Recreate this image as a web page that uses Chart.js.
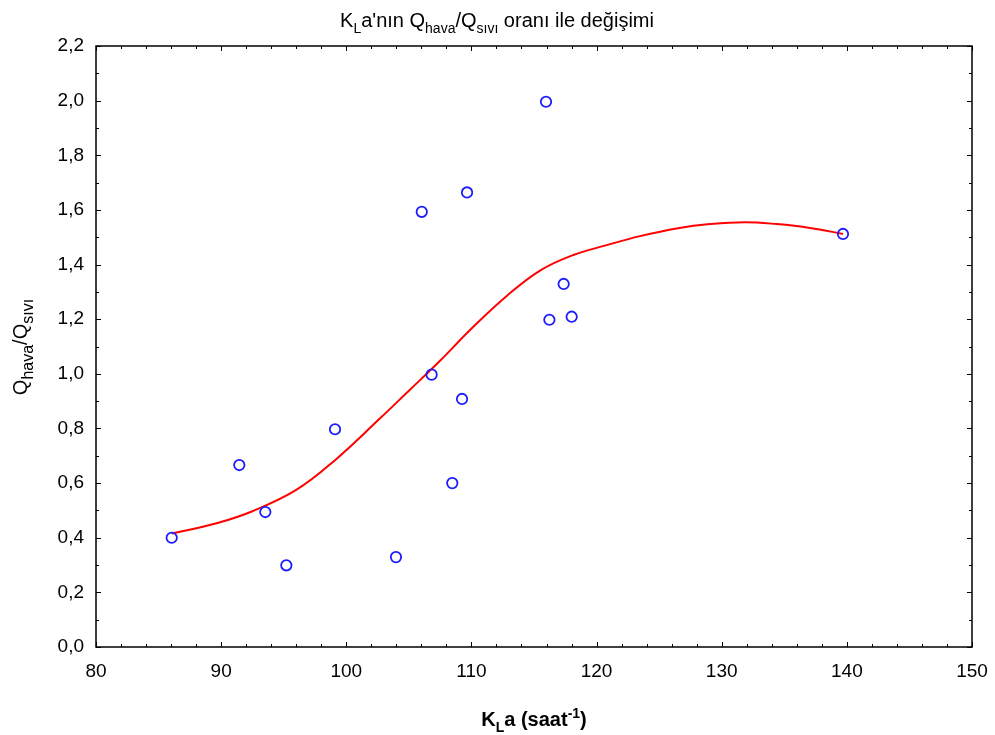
<!DOCTYPE html>
<html>
<head>
<meta charset="utf-8">
<script src="https://cdn.jsdelivr.net/npm/chart.js@4.4.1/dist/chart.umd.min.js"></script>
<style>
  html, body { margin: 0; padding: 0; background: #ffffff; }
  #wrap { width: 995px; height: 735px; position: relative; }
</style>
</head>
<body>
<div id="wrap"><canvas id="c"></canvas></div>
<script>
// ---- Data ----
const xValues = [86.05, 91.45, 93.53, 95.21, 99.10, 103.97, 106.03, 106.82, 108.47, 109.25, 109.65, 115.96, 116.23, 117.37, 118.01, 139.69];
const yValues = [0.400, 0.666, 0.494, 0.299, 0.797, 0.329, 1.593, 0.997, 0.600, 0.908, 1.664, 1.996, 1.198, 1.329, 1.209, 1.512];

// fitted (smoothed) curve
const fitX = [86.05, 89.64, 92.50, 96.00, 99.10, 102.70, 105.00, 107.49, 110.15, 112.82, 115.48, 118.14, 120.81, 123.47, 126.50, 129.06, 131.86, 134.40, 137.06, 139.69];
const fitY = [0.415, 0.453, 0.497, 0.575, 0.684, 0.837, 0.938, 1.048, 1.172, 1.285, 1.378, 1.435, 1.471, 1.504, 1.533, 1.548, 1.555, 1.548, 1.534, 1.512];

const xMin = 80, xMax = 150, xStep = 10, xMinorStep = 2;
const yMin = 0, yMax = 2.2, yStep = 0.2, yMinorStep = 0.1;

const titleParts = [["K", "n"], ["L", "sub"], ["a'nın Q", "n"], ["hava", "sub"], ["/Q", "n"], ["sıvı", "sub"], [" oranı ile değişimi", "n"]];
const yTitleParts = [["Q", "n"], ["hava", "sub"], ["/Q", "n"], ["sıvı", "sub"]];
const xTitleParts = [["K", "n"], ["L", "sub"], ["a (saat", "n"], ["-1", "sup"], [")", "n"]];

const FONT = "'Liberation Sans', Arial, sans-serif";

function drawRich(ctx, parts, cx, cy, size, weight, ratio) {
  const subSize = Math.round(size * ratio);
  let total = 0;
  const fonts = parts.map(p => {
    const s = p[1] === "n" ? size : subSize;
    const f = weight + " " + s + "px " + FONT;
    ctx.font = f;
    const w = ctx.measureText(p[0]).width;
    total += w;
    return { f, w };
  });
  let x = cx - total / 2;
  ctx.textBaseline = "alphabetic";
  ctx.textAlign = "left";
  parts.forEach((p, i) => {
    ctx.font = fonts[i].f;
    let dy = 0;
    if (p[1] === "sub") dy = size * 0.28;
    if (p[1] === "sup") dy = -size * 0.42;
    ctx.fillText(p[0], x, cy + dy);
    x += fonts[i].w;
  });
}

const framePlugin = {
  id: "frame",
  afterDraw(chart) {
    const ctx = chart.ctx;
    const a = chart.chartArea;
    const xs = chart.scales.x, ys = chart.scales.y;
    ctx.save();
    ctx.strokeStyle = "#000";
    ctx.lineWidth = 1.5;
    ctx.strokeRect(a.left, a.top, a.right - a.left, a.bottom - a.top);
    ctx.lineWidth = 1;
    ctx.beginPath();
    const nx = Math.round((xMax - xMin) / xMinorStep);
    for (let i = 0; i <= nx; i++) {
      const v = xMin + i * xMinorStep;
      const px = Math.round(xs.getPixelForValue(v)) + 0.5;
      const major = i % 5 === 0;
      const len = major ? 5 : 3;
      ctx.moveTo(px, a.bottom); ctx.lineTo(px, a.bottom - len);
      ctx.moveTo(px, a.top); ctx.lineTo(px, a.top + len);
    }
    const ny = Math.round((yMax - yMin) / yMinorStep);
    for (let i = 0; i <= ny; i++) {
      const v = yMin + i * yMinorStep;
      const py = Math.round(ys.getPixelForValue(v)) + 0.5;
      const major = i % 2 === 0;
      const len = major ? 5 : 3;
      ctx.moveTo(a.left, py); ctx.lineTo(a.left + len, py);
      ctx.moveTo(a.right, py); ctx.lineTo(a.right - len, py);
    }
    ctx.stroke();

    ctx.fillStyle = "#000";
    drawRich(ctx, titleParts, 497, 27, 20, "normal", 0.72);
    drawRich(ctx, xTitleParts, 534, 726, 20, "bold", 0.72);
    ctx.translate(27, 347);
    ctx.rotate(-Math.PI / 2);
    drawRich(ctx, yTitleParts, 0, 0, 20, "normal", 0.78);
    ctx.restore();
  }
};

const scatterData = xValues.map((x, i) => ({ x, y: yValues[i] }));
const fitData = fitX.map((x, i) => ({ x, y: fitY[i] }));

new Chart(document.getElementById("c"), {
  type: "scatter",
  data: {
    datasets: [
      {
        label: "fit",
        type: "line",
        data: fitData,
        borderColor: "#ff0000",
        borderWidth: 2,
        pointRadius: 0,
        fill: false,
        tension: 0.4,
        order: 2
      },
      {
        label: "data",
        data: scatterData,
        pointStyle: "circle",
        pointRadius: 5.2,
        pointBorderWidth: 1.8,
        pointBorderColor: "#1c1cff",
        pointBackgroundColor: "rgba(255,255,255,0)",
        order: 1
      }
    ]
  },
  options: {
    responsive: true,
    maintainAspectRatio: false,
    animation: false,
    layout: { padding: { top: 46, right: 23, left: 0, bottom: 0 } },
    plugins: { legend: { display: false }, title: { display: false }, tooltip: { enabled: false } },
    scales: {
      x: {
        type: "linear",
        min: xMin, max: xMax,
        afterFit(s) { s.height = 88; s.paddingRight = 0; s.paddingLeft = 0; },
        grid: { display: false, drawTicks: false },
        border: { display: false },
        ticks: {
          stepSize: xStep,
          padding: 13,
          color: "#000",
          font: { family: FONT, size: 19 },
          callback: v => String(Math.round(v))
        }
      },
      y: {
        type: "linear",
        min: yMin, max: yMax,
        afterFit(s) { s.width = 96; s.paddingTop = 0; s.paddingBottom = 0; },
        grid: { display: false, drawTicks: false },
        border: { display: false },
        ticks: {
          stepSize: yStep,
          padding: 12,
          color: "#000",
          font: { family: FONT, size: 19 },
          callback: v => (Math.round(v * 10) / 10).toFixed(1).replace(".", ",")
        }
      }
    }
  },
  plugins: [framePlugin]
});
</script>
</body>
</html>
